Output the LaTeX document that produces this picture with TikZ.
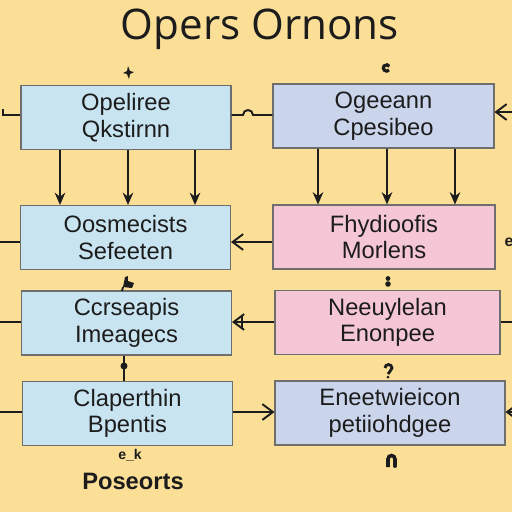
\documentclass[tikz,border=0pt]{standalone}
\usepackage{fontspec}
\setmainfont{Liberation Sans}
\newfontfamily\titlefont{Open Sans}
\usepackage{xcolor}
\usepackage{tikz}
\usetikzlibrary{calc,arrows.meta,positioning}
\definecolor{OPBack}{HTML}{FCDF97}
\definecolor{OPBlue}{HTML}{C9E4F1}
\definecolor{OPLav}{HTML}{CAD4EB}
\definecolor{OPPink}{HTML}{F4C6D6}
\definecolor{OPEdge}{HTML}{6E6E6E}
\definecolor{OPInk}{HTML}{1C1C1C}

\tikzset{
  opbox/.style={draw=OPEdge, line width=0.6pt, minimum height=1.28cm,
    align=center, text=OPInk, font=\fontsize{13.5}{15}\selectfont},
  blue box/.style={opbox, fill=OPBlue, minimum width=4.2cm},
  lav box/.style={opbox, fill=OPLav},
  pink box/.style={opbox, fill=OPPink},
  link/.style={draw=OPInk, line width=1.1pt},
  down/.style={link, -{Stealth[length=7pt,width=6pt]}},
  side/.style={link, -{Straight Barb[length=6pt,width=9pt]}},
}

\begin{document}
\begin{tikzpicture}[x=0.02cm, y=-0.02cm]
\fill[OPBack] (0,0) rectangle (512,512);
\useasboundingbox (0,0) rectangle (512,512);

% title
\node[text=OPInk, font=\titlefont\fontsize{24}{28}\selectfont] (title) at (260,29) {Opers Ornons};

% left column
\node[blue box] (A) at (126,117.5) {Opeliree\\Qkstirnn};
\node[blue box] (B) at (125.5,237.5) {Oosmecists\\Sefeeten};
\node[blue box] (C) at (126.5,323) {Ccrseapis\\Imeagecs};
\node[blue box] (D) at (127.5,413.5) {Claperthin\\Bpentis};

% right column
\node[lav box, minimum width=4.42cm] (E) at (383.5,116) {Ogeeann\\Cpesibeo};
\node[pink box, minimum width=4.44cm] (F) at (384,237) {Fhydioofis\\Morlens};
\node[pink box, minimum width=4.5cm] (G) at (387.5,322.5) {Neeuylelan\\Enonpee};
\node[lav box, minimum width=4.6cm] (H) at (390,413) {Eneetwieicon\\petiiohdgee};

% bottom labels
\node[text=OPInk, font=\bfseries\fontsize{8}{9}\selectfont] (tag) at (130,455) {e\_k};
\node[text=OPInk, font=\bfseries\fontsize{13.5}{15}\selectfont] (foot) at (133,481) {Poseorts};

% free ends
\coordinate (lA) at (0,115);
\coordinate (lB) at (0,242);
\coordinate (lC) at (0,322);
\coordinate (lD) at (0,412);
\coordinate (rE) at (512,112);
\coordinate (rG) at (512,322);
\coordinate (rH) at (514,412);

% arrows between rows
\foreach \x in {60,128,195}
  \draw[down] (A.south -| \x,0) -- (B.north -| \x,0);
\foreach \x in {318,387,455}
  \draw[down] (E.south -| \x,0) -- (F.north -| \x,0);

\draw[side] (F.west |- 0,242) -- (B.east |- 0,242);
\draw[side] (G.west |- 0,322) -- (C.east |- 0,322);
\draw[link] (C.east |- 0,322) ++(10,-6) -- ++(0,13);
\draw[side] (D.east |- 0,412) -- (H.west |- 0,412);
\draw[side] (rE) -- (E.east |- rE);
\draw[side] (rH) -- (H.east |- rH);

% stubs
\draw[link] (lA) ++(3,-6) -- ++(0,6) -- (A.west |- lA);
\draw[link] (lB) -- (B.west |- lB);
\draw[link] (lC) -- (C.west |- lC);
\draw[link] (lD) -- (D.west |- lD);
\draw[link] (G.east |- rG) -- (rG);
\draw[link] (A.east |- 0,115) -- (243,115) arc[start angle=180, end angle=360, radius=5] -- (E.west |- 0,115);
\draw[link] (C.south -| 124,0) -- (D.north -| 124,0);
\fill[OPInk] (124,366) circle[radius=3.5];

% small marks
\fill[OPInk] (128,66) -- (130,71) -- (134,72) -- (130,74) -- (129,79) -- (127,74) -- (123,73) -- (127,71) -- cycle;
\draw[OPInk, line width=1.8pt] (389,70) arc[start angle=40, end angle=330, radius=3.2];
\fill[OPInk] (123,287) -- (125,277) -- (128,276) -- (128,281) -- (134,283) -- (132,288) -- cycle;
\draw[OPInk, line width=1.1pt] (123,287) -- (122,291);
\fill[OPInk] (388,278.5) circle[radius=2.4] (388,284) circle[radius=2.8];
\draw[OPInk, line width=1.6pt] (385,368) arc[start angle=180, end angle=420, radius=3.5] -- (388,374);
\fill[OPInk] (388,377) circle[radius=1.5];
\draw[OPInk, line width=2pt] (388,467) -- (388,459) arc[start angle=180, end angle=360, radius=3.5] -- (395,465);
\fill[OPInk] (395,466) circle[radius=2];
\node[text=OPInk, font=\bfseries\fontsize{9}{10}\selectfont] (edge) at (509,242) {e};
\end{tikzpicture}
\end{document}
